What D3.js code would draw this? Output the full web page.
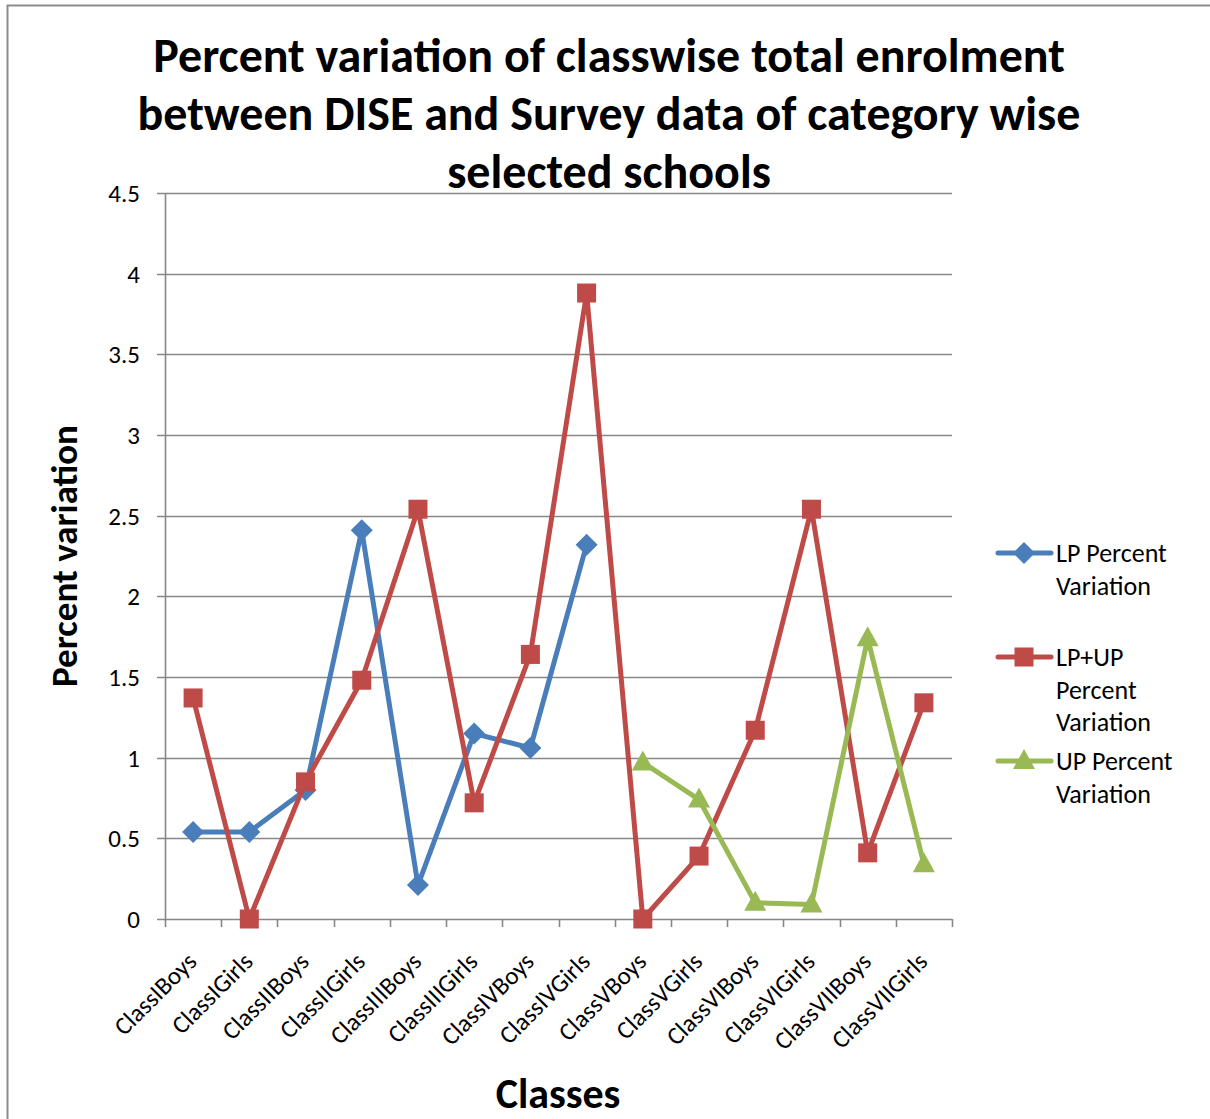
<!DOCTYPE html>
<html><head><meta charset="utf-8">
<script src="https://cdn.jsdelivr.net/npm/d3@7"></script>
<style>body{margin:0;background:#fff}svg{display:block}</style>
</head><body>
<script>
const categories = ["ClassIBoys","ClassIGirls","ClassIIBoys","ClassIIGirls","ClassIIIBoys","ClassIIIGirls","ClassIVBoys","ClassIVGirls","ClassVBoys","ClassVGirls","ClassVIBoys","ClassVIGirls","ClassVIIBoys","ClassVIIGirls"];
const lpValues = [0.54,0.54,0.80,2.41,0.21,1.15,1.06,2.32,null,null,null,null,null,null];
const lpupValues = [1.37,0,0.85,1.48,2.54,0.72,1.64,3.88,0,0.39,1.17,2.54,0.41,1.34];
const upValues = [null,null,null,null,null,null,null,null,0.97,0.74,0.10,0.09,1.74,0.34];
const yTicks = [0,0.5,1,1.5,2,2.5,3,3.5,4,4.5];
const seriesNames = ["LP Percent Variation","LP+UP Percent Variation","UP Percent Variation"];
const legendLines = [["LP Percent","Variation"],["LP+UP","Percent","Variation"],["UP Percent","Variation"]];
const titleLines = ["Percent variation of classwise total enrolment","between DISE and Survey data of category wise","selected schools"];

const W=1210,H=1119;
const svg=d3.select("body").append("svg").attr("width",W).attr("height",H);
svg.append("rect").attr("x",0).attr("y",0).attr("width",W).attr("height",H).attr("fill","#fff");
svg.append("path").attr("d","M7.5,1119 L7.5,5.5 L1210,5.5").attr("fill","none").attr("stroke","#8c8c8c").attr("stroke-width",2);

const L=165,R=952,T=193,B=919;
const x=d3.scaleBand().domain(categories).range([L,R]);
const y=d3.scaleLinear().domain([0,4.5]).range([B,T]);
const grid="#878787";
const font="Calibri, Carlito, 'Open Sans', sans-serif";

svg.append("g").selectAll("line").data(yTicks).join("line")
 .attr("x1",L-8).attr("x2",R).attr("y1",d=>Math.round(y(d))+0.5).attr("y2",d=>Math.round(y(d))+0.5)
 .attr("stroke",grid).attr("stroke-width",1.6);
svg.append("line").attr("x1",L+0.5).attr("x2",L+0.5).attr("y1",T).attr("y2",B+8).attr("stroke",grid).attr("stroke-width",1.6);
const bounds=categories.map(c=>x(c)).concat([R]);
svg.append("g").selectAll("line").data(bounds.slice(1)).join("line")
 .attr("x1",d=>Math.round(d)+0.5).attr("x2",d=>Math.round(d)+0.5).attr("y1",B).attr("y2",B+8)
 .attr("stroke",grid).attr("stroke-width",1.6);
svg.append("g").selectAll("text").data(yTicks).join("text")
 .attr("x",140).attr("y",d=>y(d)+9).attr("text-anchor","end")
 .attr("font-family",font).attr("font-size",25).attr("fill","#000").text(d=>d);
svg.append("g").selectAll("text").data(categories).join("text")
 .attr("transform",d=>`translate(${x(d)+x.bandwidth()/2+5},${B+44}) rotate(-45)`)
 .attr("text-anchor","end").attr("font-family",font).attr("font-size",25).attr("fill","#000").text(d=>d);

const cx=d=>x(d)+x.bandwidth()/2;
const colors=["#4A7EBB","#BE4B48","#98B954"];
const data=[lpValues,lpupValues,upValues];
const line=d3.line().defined(d=>d.v!=null).x(d=>cx(d.c)).y(d=>y(d.v));
function marker(g,i,px,py){
  if(i===0){
    g.append("path").attr("d",`M${px},${py-11}L${px+11},${py}L${px},${py+11}L${px-11},${py}Z`).attr("fill",colors[i]);
  } else if(i===1){
    g.append("rect").attr("x",px-9.5).attr("y",py-9.5).attr("width",19).attr("height",19).attr("fill",colors[i]);
  } else {
    g.append("path").attr("d",`M${px},${py-12}L${px+11},${py+8}L${px-11},${py+8}Z`).attr("fill",colors[i]);
  }
}
data.forEach((vals,i)=>{
  const pts=categories.map((c,j)=>({c,v:vals[j]}));
  const g=svg.append("g");
  g.append("path").datum(pts).attr("d",line).attr("fill","none").attr("stroke",colors[i]).attr("stroke-width",5).attr("stroke-linejoin","round");
  pts.filter(p=>p.v!=null).forEach(p=>marker(g,i,cx(p.c),y(p.v)));
});

svg.append("g").selectAll("text").data(titleLines).join("text")
 .attr("x",609).attr("y",(d,i)=>72+i*58).attr("text-anchor","middle")
 .attr("font-family",font).attr("font-weight","bold").attr("font-size",48).attr("fill","#000").text(d=>d);
svg.append("text").attr("transform","translate(77,556) rotate(-90)").attr("text-anchor","middle")
 .attr("font-family",font).attr("font-weight","bold").attr("font-size",37).text("Percent variation");
svg.append("text").attr("x",558).attr("y",1108).attr("text-anchor","middle")
 .attr("font-family",font).attr("font-weight","bold").attr("font-size",42).text("Classes");

const legY=[553,657,761];
legendLines.forEach((lines,i)=>{
  const g=svg.append("g");
  const ly=legY[i];
  g.append("line").attr("x1",998).attr("x2",1051).attr("y1",ly).attr("y2",ly).attr("stroke",colors[i]).attr("stroke-width",5).attr("stroke-linecap","round");
  marker(g,i,1024,ly);
  lines.forEach((t,k)=>g.append("text").attr("x",1056).attr("y",ly+9+k*32.5).attr("font-family",font).attr("font-size",26).attr("fill","#000").text(t));
});
</script>
</body></html>
